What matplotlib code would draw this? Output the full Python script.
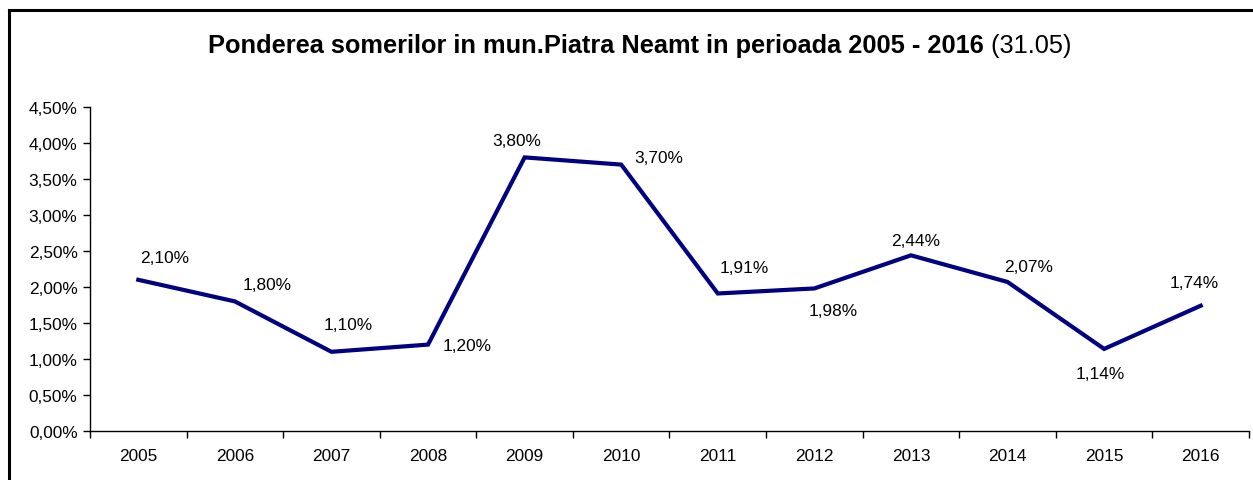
import matplotlib
matplotlib.use('Agg')
import matplotlib.pyplot as plt
from matplotlib.ticker import FixedLocator, FuncFormatter, NullFormatter
from matplotlib.lines import Line2D

years = ['2005', '2006', '2007', '2008', '2009', '2010',
         '2011', '2012', '2013', '2014', '2015', '2016']
pondere = [2.10, 1.80, 1.10, 1.20, 3.80, 3.70, 1.91, 1.98, 2.44, 2.07, 1.14, 1.74]

title_bold = 'Ponderea somerilor in mun.Piatra Neamt in perioada 2005 - 2016'
title_rest = ' (31.05)'

# label offsets in pixels (dx right, dy down), like the excel placement
label_offsets = [(26, -22), (32, -17), (17, -27), (39, 1), (-8, -17), (38, -7),
                 (26, -26), (19, 22), (5, -15), (21, -15), (-4, 25), (-7, -23)]

plt.rcParams['font.family'] = ['Liberation Sans', 'DejaVu Sans']
fs = 12.4

def fmt_pct(v):
    return f'{v:.2f}%'.replace('.', ',')

fig = plt.figure(figsize=(12.53, 4.81), dpi=100)
ax = fig.add_axes([90 / 1253, 49 / 481, 1159 / 1253, 324 / 481])

x = list(range(len(years)))
ax.plot(x, pondere, color='#000080', linewidth=3.0, solid_joinstyle='miter')

for xi, v, (dx, dy) in zip(x, pondere, label_offsets):
    ax.annotate(fmt_pct(v), (xi, v), xytext=(dx * 0.72, -dy * 0.72),
                textcoords='offset points', ha='center', va='center',
                fontsize=fs, color='black')

ax.set_xlim(-0.5, len(years) - 0.5)
ax.set_ylim(0, 4.5)
ax.set_yticks([i * 0.5 for i in range(10)])
ax.yaxis.set_major_formatter(FuncFormatter(lambda v, p: fmt_pct(v)))

ax.xaxis.set_major_locator(FixedLocator([i - 0.5 for i in range(len(years) + 1)]))
ax.xaxis.set_major_formatter(NullFormatter())
ax.set_xticks(x, minor=True)
ax.set_xticklabels(years, minor=True)
ax.tick_params(axis='x', which='minor', length=0, pad=12.5, labelsize=fs)
ax.tick_params(axis='x', which='major', length=5, width=1, direction='out')
ax.tick_params(axis='y', length=5, width=1, direction='out', labelsize=fs, pad=4)

for s in ['top', 'right']:
    ax.spines[s].set_visible(False)
for s in ['left', 'bottom']:
    ax.spines[s].set_color('black')
    ax.spines[s].set_linewidth(1)

# chart frame (only left and top visible in the crop)
fig.add_artist(Line2D([9 / 1253, 9 / 1253], [0, 1 - 11 / 481], color='black', lw=2.2,
                      transform=fig.transFigure))
fig.add_artist(Line2D([9 / 1253, 1], [1 - 11 / 481, 1 - 11 / 481], color='black', lw=2.2,
                      transform=fig.transFigure))

# title: bold part plus normal part, centred together
renderer = fig.canvas.get_renderer()
t1 = fig.text(0, 1 - 46 / 481, title_bold, fontsize=18.3, fontweight='bold', va='center')
t2 = fig.text(0, 1 - 46 / 481, title_rest, fontsize=18.3, va='center')
w1 = t1.get_window_extent(renderer).width
w2 = t2.get_window_extent(renderer).width
x0 = 640 - (w1 + w2) / 2
t1.set_x(x0 / 1253)
t2.set_x((x0 + w1) / 1253)

fig.savefig('out.png', dpi=100)
